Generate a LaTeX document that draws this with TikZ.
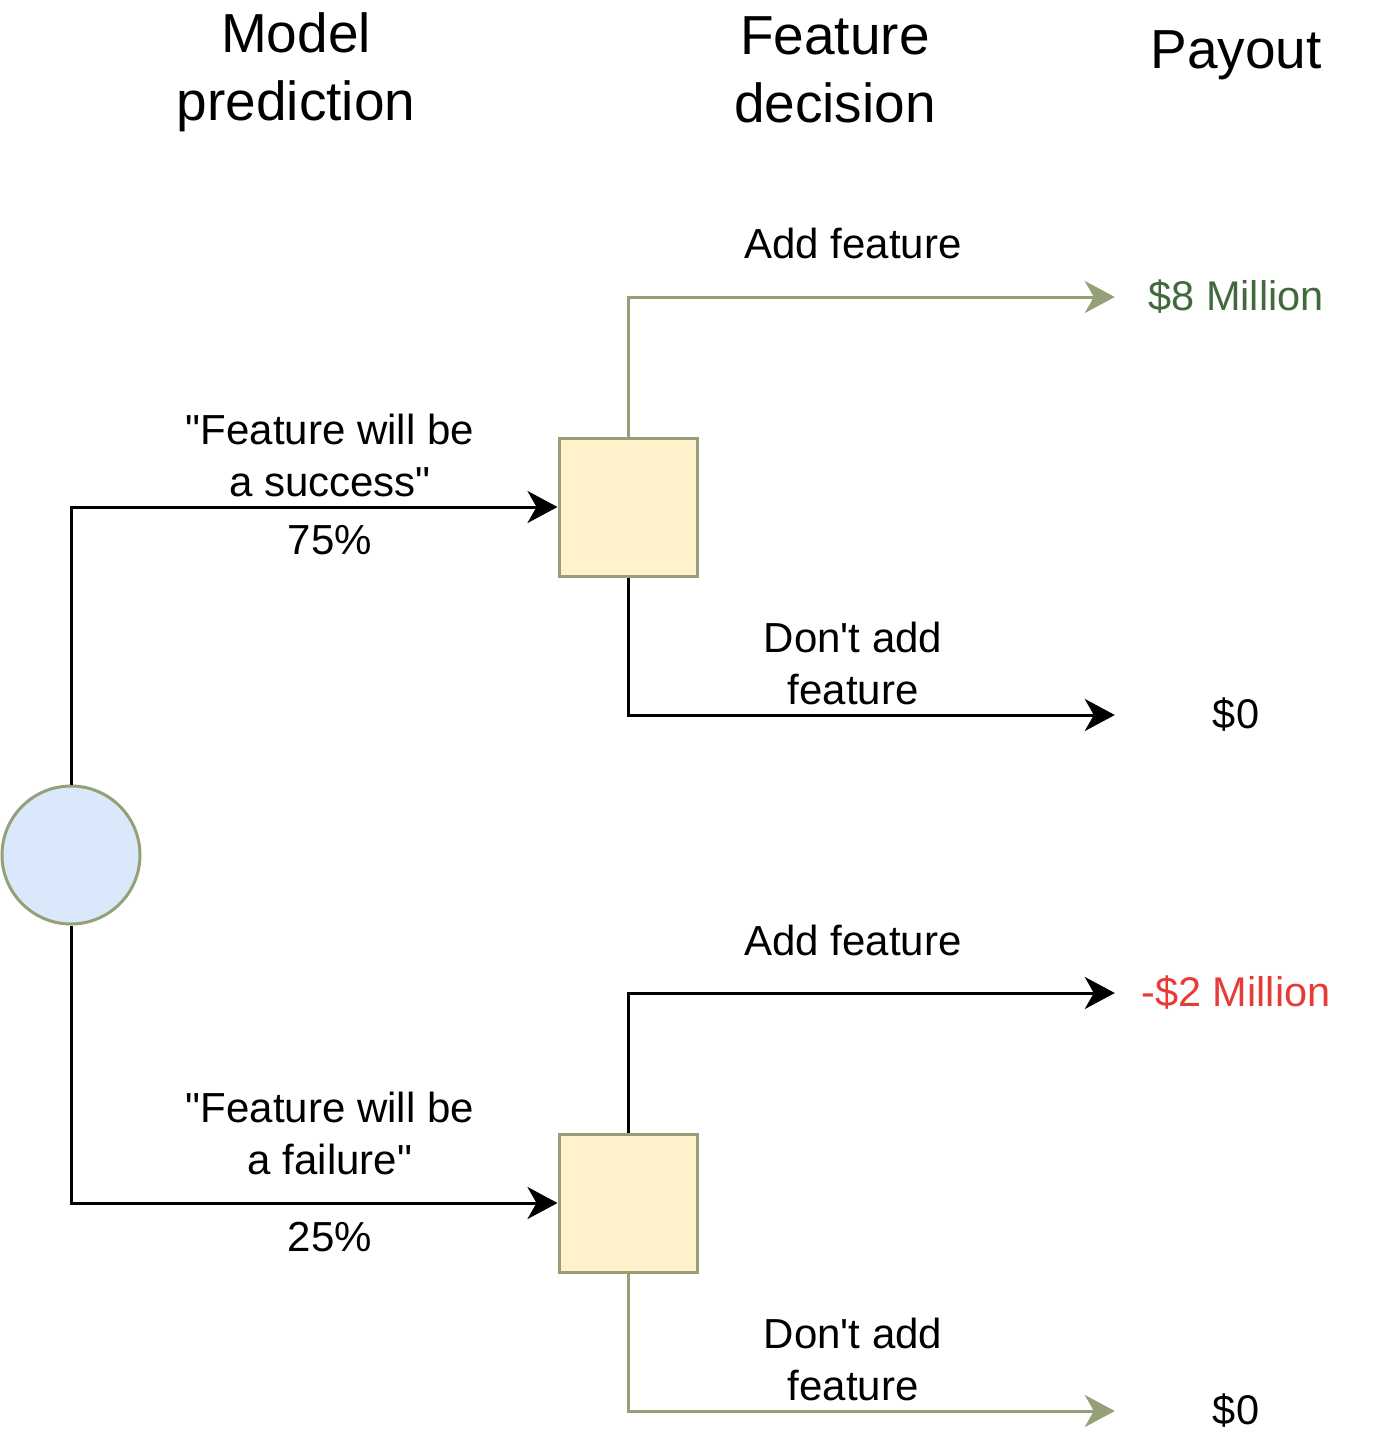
\documentclass[tikz,border=0pt]{standalone}
\usepackage{fontspec}
\setmainfont{Liberation Sans}[Ligatures=TeXOff]
\usepackage{tikz}
\usetikzlibrary{arrows.meta,positioning,calc}

\definecolor{sageline}{RGB}{150,160,120}
\definecolor{gaintext}{RGB}{66,104,62}
\definecolor{losstext}{RGB}{232,58,56}
\definecolor{chancefill}{RGB}{218,232,252}
\definecolor{decfill}{RGB}{255,242,204}

\begin{document}
\begin{tikzpicture}[
    x=1pt, y=-1pt,
    chance/.style={circle, draw=sageline, fill=chancefill, line width=3pt, minimum size=138pt, inner sep=0pt},
    decision/.style={rectangle, draw=sageline, fill=decfill, line width=3pt, minimum size=138pt, inner sep=0pt},
    payout/.style={minimum width=242pt, inner sep=0pt, font=\fontsize{41.5}{48}\selectfont},
    label/.style={align=center, font=\fontsize{42}{52}\selectfont},
    heading/.style={align=center, font=\fontsize{55}{68}\selectfont},
    edge/.style={line width=3pt, -{Stealth[length=30pt, width=32pt, inset=9pt]}},
]
    \useasboundingbox (0,0) rectangle (1400,1449);

    % headings
    \node[heading] (hmodel) at (296,72) {Model\\prediction};
    \node[heading] (hfeat) at (835,70) {Feature\\decision};
    \node[heading] (hpay) at (1236,55) {Payout};

    % nodes
    \node[chance] (root) at (71,855) {};
    \node[decision] (succ) at (628,507) {};
    \node[decision] (fail) at (628,1203) {};

    \node[payout, text=gaintext] (pay1) at (1236,297) {\$8 Million};
    \node[payout] (pay2) at (1236,715) {\$0};
    \node[payout, text=losstext] (pay3) at (1236,993) {-\$2 Million};
    \node[payout] (pay4) at (1236,1411) {\$0};

    % connectors
    \draw[edge] (root.north) |- (succ.west);
    \draw[edge] (root.south) |- (fail.west);
    \draw[edge, sageline] (succ.north) |- (pay1.west);
    \draw[edge] (succ.south) |- (pay2.west);
    \draw[edge] (fail.north) |- (pay3.west);
    \draw[edge, sageline] (fail.south) |- (pay4.west);

    % labels
    \node[label] (lsucc) at (330,455) {"Feature will be\\a success"};
    \node[label] (psucc) at (330,540) {75\%};
    \node[label] (lfail) at (330,1133) {"Feature will be\\a failure"};
    \node[label] (pfail) at (330,1237) {25\%};

    \node[label] (add1) at (853,243) {Add feature};
    \node[label] (skip1) at (853,663) {Don't add\\feature};
    \node[label] (add2) at (853,940) {Add feature};
    \node[label] (skip2) at (853,1359) {Don't add\\feature};
\end{tikzpicture}
\end{document}
